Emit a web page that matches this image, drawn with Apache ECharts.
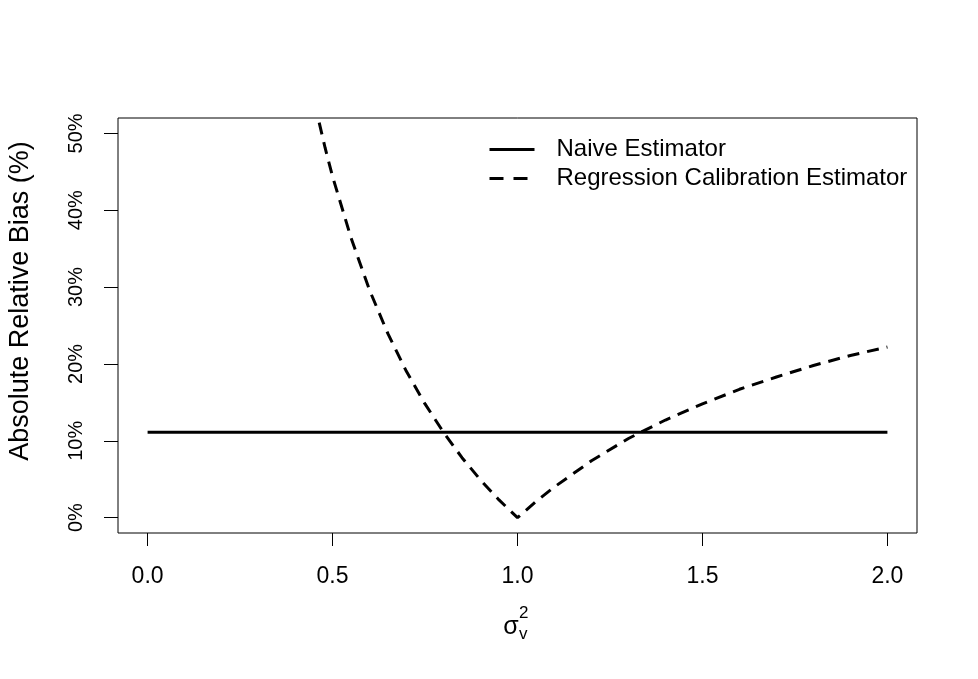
<!DOCTYPE html>
<html>
<head>
<meta charset="utf-8">
<title>Absolute Relative Bias</title>
<script src="https://cdn.jsdelivr.net/npm/echarts@6/dist/echarts.min.js"></script>
<style>
    html, body { margin: 0; padding: 0; background: #fff; }
    #main { width: 978px; height: 679px; }
</style>
</head>
<body>
<div id="main"></div>
<script>
    // 数据：sigma_v^2 与偏差 (%)
    var naiveX = [0, 2];
    var naiveY = [11.1, 11.1];

    var rcX = [0.40, 0.42, 0.44, 0.46, 0.48, 0.50, 0.55, 0.60, 0.65, 0.70, 0.75, 0.80, 0.85, 0.90, 0.95,
               1.00, 1.05, 1.10, 1.20, 1.30, 1.40, 1.50, 1.60, 1.70, 1.80, 1.90, 2.00];
    var rcY = [66.7, 61.4, 56.6, 52.2, 48.1, 44.4, 36.4, 29.6, 23.9, 19.0, 14.8, 11.1, 7.8, 4.9, 2.3,
               0.0, 2.1, 4.0, 7.4, 10.3, 12.7, 14.8, 16.7, 18.3, 19.8, 21.1, 22.2];

    var xTicks = [0, 0.5, 1, 1.5, 2];
    var yTicks = [0, 10, 20, 30, 40, 50];

    function pairs(xs, ys) {
        return xs.map(function (x, i) { return [x, ys[i]]; });
    }

    var myChart = echarts.init(document.getElementById('main'));
    var font = 'Liberation Sans, Arial, sans-serif';

    option = {
        animation: false,
        backgroundColor: '#fff',
        grid: {
            left: 118, right: 61, top: 118, bottom: 146,
            show: true,
            borderColor: '#000',
            borderWidth: 1
        },
        legend: {
            orient: 'vertical',
            left: 483,
            top: 130,
            itemWidth: 45,
            itemHeight: 14,
            itemGap: 0,
            textStyle: {
                color: '#000', fontFamily: font, fontSize: 24,
                lineHeight: 29, padding: [0, 0, 0, 17]
            },
            data: [
                { name: 'Naive Estimator', itemStyle: { opacity: 0 }, lineStyle: { width: 3, type: 'solid' } },
                { name: 'Regression Calibration Estimator', itemStyle: { opacity: 0 }, lineStyle: { width: 3, type: [14, 10] } }
            ]
        },
        xAxis: {
            type: 'value',
            min: -0.08,
            max: 2.08,
            splitLine: { show: false },
            axisLine: { show: false, onZero: false },
            axisTick: {
                show: true, length: 13, customValues: xTicks,
                lineStyle: { color: '#000', width: 1 }
            },
            axisLabel: {
                customValues: xTicks, margin: 32,
                color: '#000', fontFamily: font, fontSize: 23,
                formatter: function (v) { return v.toFixed(1); }
            }
        },
        yAxis: {
            type: 'value',
            min: -2,
            max: 52,
            splitLine: { show: false },
            axisLine: { show: false, onZero: false },
            axisTick: {
                show: true, length: 14, customValues: yTicks,
                lineStyle: { color: '#000', width: 1 }
            },
            axisLabel: {
                customValues: yTicks, margin: 32, rotate: 90,
                color: '#000', fontFamily: font, fontSize: 20,
                formatter: function (v) { return v + '%'; }
            }
        },
        graphic: [
            {
                type: 'text', x: 21, y: 301, rotation: Math.PI / 2,
                style: {
                    text: 'Absolute Relative Bias (%)', fill: '#000',
                    font: '27px ' + font, textAlign: 'center', textVerticalAlign: 'middle'
                }
            },
            {
                type: 'text', x: 511, y: 627,
                style: { text: 'σ', fill: '#000', font: '25px ' + font, textAlign: 'center', textVerticalAlign: 'middle' }
            },
            {
                type: 'text', x: 519, y: 613,
                style: { text: '2', fill: '#000', font: '17px ' + font, textAlign: 'left', textVerticalAlign: 'middle' }
            },
            {
                type: 'text', x: 519, y: 634,
                style: { text: 'v', fill: '#000', font: '17px ' + font, textAlign: 'left', textVerticalAlign: 'middle' }
            }
        ],
        series: [
            {
                name: 'Naive Estimator',
                type: 'line',
                symbol: 'none',
                clip: true,
                color: '#000',
                lineStyle: { color: '#000', width: 3, type: 'solid' },
                data: pairs(naiveX, naiveY)
            },
            {
                name: 'Regression Calibration Estimator',
                type: 'line',
                symbol: 'none',
                clip: true,
                color: '#000',
                lineStyle: { color: '#000', width: 3, type: [12, 8] },
                data: pairs(rcX, rcY)
            }
        ]
    };

    myChart.setOption(option);
</script>
</body>
</html>
